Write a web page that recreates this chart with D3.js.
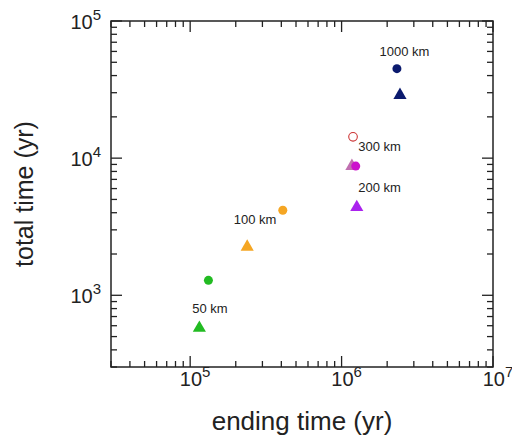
<!DOCTYPE html>
<html><head><meta charset="utf-8">
<script src="https://cdn.jsdelivr.net/npm/d3@7"></script>
<style>body{margin:0;background:#fff}text{font-family:"Liberation Sans",Arial,sans-serif}</style>
</head><body><svg id="c" width="512" height="446"></svg>
<script>
// data
const circleSeries = [
  {label:"1000 km", x:2.32e6, y:44900, color:"#0b1a6e"},
  {label:"300 km",  x:1.24e6, y:8750,  color:"#cc11cc"},
  {label:"100 km",  x:4.09e5, y:4170,  color:"#f5a623"},
  {label:"50 km",   x:1.32e5, y:1285,  color:"#22bb22"}
];
const triangleSeries = [
  {label:"1000 km", x:2.43e6, y:29300, color:"#0b1a6e"},
  {label:"300 km",  x:1.17e6, y:8900,  color:"#c070b0"},
  {label:"200 km",  x:1.26e6, y:4460,  color:"#aa22ee"},
  {label:"100 km",  x:2.38e5, y:2290,  color:"#f5a623"},
  {label:"50 km",   x:1.15e5, y:587,   color:"#22bb22"}
];
const openCircles = [{x:1.19e6, y:14300, color:"#cc3333"}];
const labels = [
  {text:"1000 km", x:2.6e6, y:56000},
  {text:"300 km",  x:1.78e6, y:11300},
  {text:"200 km",  x:1.78e6, y:5650},
  {text:"100 km",  x:2.68e5, y:3300},
  {text:"50 km",   x:1.35e5, y:740}
];
const xTicks = [1e5, 1e6, 1e7];
const yTicks = [1e3, 1e4, 1e5];
const xDomain = [3e4, 1e7], yDomain = [300, 1e5];

const svg = d3.select("#c");
const L=111, R=493, T=21, B=367;
const x = d3.scaleLog().domain(xDomain).range([L,R]);
const y = d3.scaleLog().domain(yDomain).range([B,T]);

function allTicks(dom){
  const out=[]; const lo=Math.floor(Math.log10(dom[0])), hi=Math.ceil(Math.log10(dom[1]));
  for(let e=lo;e<=hi;e++) for(let m=1;m<10;m++){const v=m*Math.pow(10,e); if(v>=dom[0]*0.999&&v<=dom[1]*1.001) out.push({v,major:m===1});}
  return out;
}
const g = svg.append("g").attr("stroke","#222").attr("stroke-width",1.3);
allTicks(xDomain).forEach(t=>{
  const px=x(t.v), len=t.major?11:6;
  g.append("line").attr("x1",px).attr("x2",px).attr("y1",B).attr("y2",B-len);
  g.append("line").attr("x1",px).attr("x2",px).attr("y1",T).attr("y2",T+len);
});
allTicks(yDomain).forEach(t=>{
  const py=y(t.v), len=t.major?11:6;
  g.append("line").attr("x1",L).attr("x2",L+len).attr("y1",py).attr("y2",py);
  g.append("line").attr("x1",R).attr("x2",R-len).attr("y1",py).attr("y2",py);
});
svg.append("rect").attr("x",L).attr("y",T).attr("width",R-L).attr("height",B-T)
  .attr("fill","none").attr("stroke","#222").attr("stroke-width",1.5);

function pow(sel, v){
  const e=Math.round(Math.log10(v));
  sel.append("tspan").text("10");
  sel.append("tspan").attr("dy",-9).attr("font-size",15).text(e);
}
xTicks.forEach(v=>{
  const t=svg.append("text").attr("x",x(v)+5).attr("y",386).attr("text-anchor","middle").attr("font-size",20).attr("fill","#222");
  pow(t,v);
});
yTicks.forEach(v=>{
  const t=svg.append("text").attr("x",101).attr("y",y(v)+8).attr("text-anchor","end").attr("font-size",20).attr("fill","#222");
  pow(t,v);
});

svg.append("text").attr("x",(L+R)/2).attr("y",430).attr("text-anchor","middle").attr("font-size",26).attr("fill","#222").text("ending time (yr)");
svg.append("text").attr("transform","translate(33,194) rotate(-90)").attr("text-anchor","middle").attr("font-size",25).attr("fill","#222").text("total time (yr)");

const tri = d3.symbol().type(d3.symbolTriangle).size(75);
svg.append("g").selectAll("path").data(triangleSeries).join("path")
  .attr("d",tri).attr("transform",d=>`translate(${x(d.x)},${y(d.y)+1})`).attr("fill",d=>d.color);
svg.append("g").selectAll("circle").data(circleSeries).join("circle")
  .attr("cx",d=>x(d.x)).attr("cy",d=>y(d.y)).attr("r",4.5).attr("fill",d=>d.color);
svg.append("g").selectAll("circle").data(openCircles).join("circle")
  .attr("cx",d=>x(d.x)).attr("cy",d=>y(d.y)).attr("r",4.3).attr("fill","none").attr("stroke",d=>d.color).attr("stroke-width",1.1);
svg.append("g").selectAll("text").data(labels).join("text")
  .attr("x",d=>x(d.x)).attr("y",d=>y(d.y)).attr("text-anchor","middle").attr("font-size",13).attr("fill","#222").text(d=>d.text);
</script></body></html>
